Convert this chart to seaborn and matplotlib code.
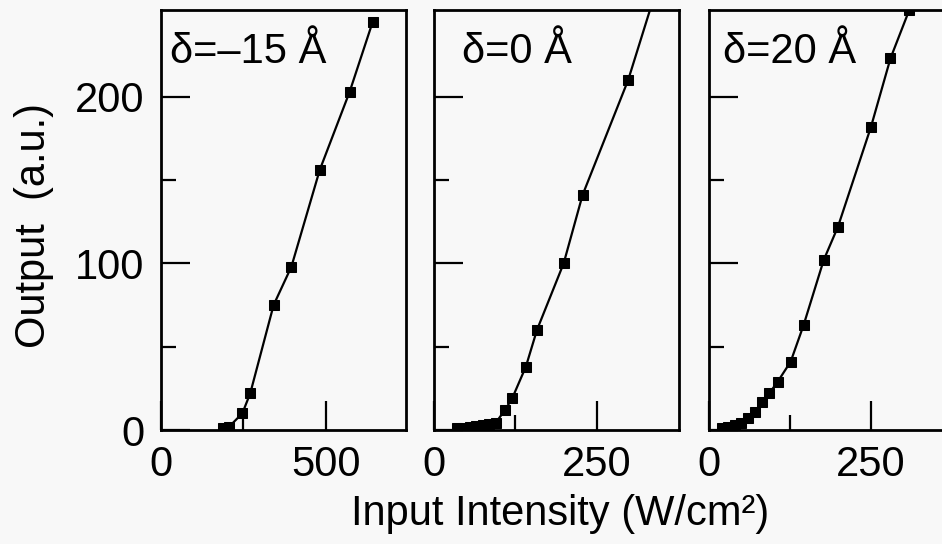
import numpy as np
import pandas as pd
import matplotlib
matplotlib.use("Agg")
import matplotlib.pyplot as plt
import seaborn as sns

# datos (Input Intensity W/cm2, Output a.u.)
x_m15 = [189, 207, 247, 271, 342, 396, 482, 573, 643]
y_m15 = [1, 2, 10, 22, 75, 98, 156, 203, 245]

x_0 = [35, 45, 55, 65, 75, 85, 95, 109, 120, 141, 158, 199, 228, 298, 345]
y_0 = [1, 1.5, 2, 2.5, 3, 3.5, 4.5, 12, 19, 38, 60, 100, 141, 210, 269]

x_20 = [20, 30, 40, 50, 60, 71, 82, 93, 106, 126, 146, 177, 199, 250, 280, 309]
y_20 = [1, 2, 3, 4, 7, 11, 17, 22, 29, 41, 63, 102, 122, 182, 223, 252]

etiquetas = ["δ=–15 Å", "δ=0 Å", "δ=20 Å"]
xmax = [744, 376, 378]
xmajor = [[0, 500], [0, 250], [0, 250]]
xminor = [[250], [125], [125]]
ymajor = [0, 100, 200]
yminor = [50, 150]

sns.set_style("ticks")
plt.rcParams['font.family'] = ['Liberation Sans', 'DejaVu Sans']
plt.rcParams['font.size'] = 30
for k in ['text.color', 'xtick.color', 'ytick.color', 'axes.labelcolor',
          'axes.edgecolor']:
    plt.rcParams[k] = 'black'

fondo = '#f8f8f8'
fig = plt.figure(figsize=(9.42, 5.44), dpi=100, facecolor=fondo)

# posiciones de los paneles en pixeles (izquierda)
lefts = [161, 434, 709]
txt_off = [0.037, 0.114, 0.057]
series = [(x_m15, y_m15), (x_0, y_0), (x_20, y_20)]

for i, (xs, ys) in enumerate(series):
    ax = fig.add_axes([lefts[i] / 942, 114 / 544, 245 / 942, 420 / 544])
    ax.set_facecolor(fondo)
    df = pd.DataFrame({'x': xs, 'y': ys})
    sns.lineplot(data=df, x='x', y='y', ax=ax, color='black', lw=1.6,
                 marker='s', markersize=7, markeredgecolor='black',
                 estimator=None, sort=False)
    ax.set_xlim(0, xmax[i])
    ax.set_ylim(0, 252)
    ax.set_xticks(xmajor[i])
    ax.set_xticks(xminor[i], minor=True)
    ax.set_yticks(ymajor)
    ax.set_yticks(yminor, minor=True)
    ax.tick_params(which='major', direction='in', length=21, width=1.6,
                   labelsize=30, color='black', labelcolor='black')
    ax.tick_params(which='minor', direction='in', length=11, width=1.6,
                   color='black')
    ax.tick_params(axis='y', which='both', pad=12)
    ax.tick_params(axis='x', which='both', pad=11)
    if i > 0:
        ax.set_yticklabels([])
    for sp in ax.spines.values():
        sp.set_linewidth(2.0)
        sp.set_color('black')
    ax.set_xlabel('')
    ax.set_ylabel('')
    ax.text(txt_off[i], 0.874, etiquetas[i], transform=ax.transAxes,
            fontsize=30, va='baseline', ha='left', color='black')

fig.text(560 / 942, 19 / 544, "Input Intensity (W/cm²)", ha='center',
         va='baseline', fontsize=30, color='black')
fig.text(34 / 942, 1 - 225 / 544, "Output  (a.u.)", rotation=90,
         ha='center', va='center', fontsize=30, color='black')

fig.savefig('out.png', dpi=100, facecolor=fondo)
